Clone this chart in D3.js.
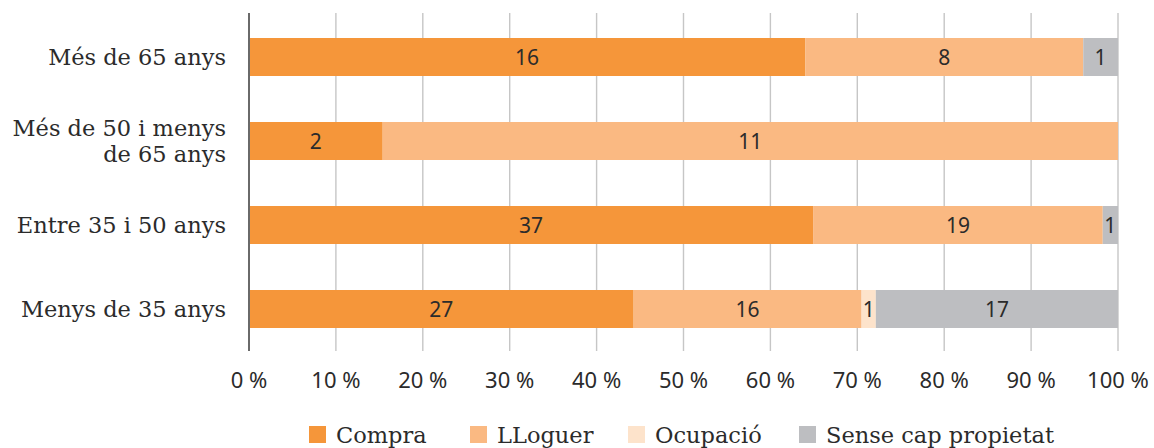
<!DOCTYPE html>
<html>
<head>
<meta charset="utf-8">
<script src="https://cdn.jsdelivr.net/npm/d3@7"></script>
<style>
  body { margin: 0; background: #fff; }
</style>
</head>
<body>
<div id="chart"></div>
<script>
var svgWidth = 1154;
var svgHeight = 448;

var categories = ["Més de 65 anys", "Més de 50 i menys\nde 65 anys", "Entre 35 i 50 anys", "Menys de 35 anys"];
var seriesNames = ["Compra", "LLoguer", "Ocupació", "Sense cap propietat"];
var compra = [16, 2, 37, 27];
var lloguer = [8, 11, 19, 16];
var ocupacio = [0, 0, 0, 1];
var senseCap = [1, 0, 1, 17];
var tickValues = [0, 0.1, 0.2, 0.3, 0.4, 0.5, 0.6, 0.7, 0.8, 0.9, 1];

var colors = ["#f5963a", "#fab982", "#fde3cb", "#bdbec1"];
var serif = "'DejaVu Serif', serif";
var sans = "'Noto Sans', sans-serif";

var svg = d3.select("#chart")
  .append("svg")
  .attr("width", svgWidth)
  .attr("height", svgHeight);

var rows = categories.map(function(c, i) {
  return { cat: c, values: [compra[i], lloguer[i], ocupacio[i], senseCap[i]] };
});

var xScale = d3.scaleLinear().domain([0, 1]).range([249, 1118]);
var yScale = d3.scaleBand().domain(categories).range([15, 351])
  .paddingInner(0.5476).paddingOuter(0.2738);

// gridlines
svg.append("g")
  .selectAll("line")
  .data(tickValues.slice(1))
  .enter()
  .append("line")
  .attr("x1", d => xScale(d))
  .attr("x2", d => xScale(d))
  .attr("y1", 13)
  .attr("y2", 351)
  .attr("stroke", "#c6c6c6")
  .attr("stroke-width", 1.4);

// segments
var segs = [];
rows.forEach(function(r) {
  var total = d3.sum(r.values);
  var acc = 0;
  r.values.forEach(function(v, k) {
    segs.push({ cat: r.cat, k: k, v: v, x0: acc / total, x1: (acc + v) / total });
    acc += v;
  });
});

svg.append("g")
  .selectAll("rect")
  .data(segs.filter(d => d.v > 0))
  .enter()
  .append("rect")
  .attr("x", d => xScale(d.x0))
  .attr("width", d => xScale(d.x1) - xScale(d.x0))
  .attr("y", d => yScale(d.cat))
  .attr("height", yScale.bandwidth())
  .attr("fill", d => colors[d.k]);

svg.append("g")
  .selectAll("text")
  .data(segs.filter(d => d.v > 0))
  .enter()
  .append("text")
  .attr("x", d => xScale((d.x0 + d.x1) / 2))
  .attr("y", d => yScale(d.cat) + yScale.bandwidth() / 2 + 7.5)
  .attr("text-anchor", "middle")
  .attr("font-family", sans)
  .attr("font-size", "21px")
  .attr("fill", "#2b2b2b")
  .text(d => d.v);

// axis line
svg.append("line")
  .attr("x1", xScale(0)).attr("x2", xScale(0))
  .attr("y1", 13).attr("y2", 351)
  .attr("stroke", "#6a6a6a")
  .attr("stroke-width", 2);

// x tick labels
svg.append("g")
  .selectAll("text")
  .data(tickValues)
  .enter()
  .append("text")
  .attr("x", d => xScale(d))
  .attr("y", 388)
  .attr("text-anchor", "middle")
  .attr("font-family", sans)
  .attr("font-size", "22px")
  .attr("fill", "#2b2b2b")
  .text(d => Math.round(d * 100) + " %");

// category labels (one text per line)
var lineGap = 25.5;
var catLines = [];
categories.forEach(function(c) {
  var lines = c.split("\n");
  var cy = yScale(c) + yScale.bandwidth() / 2;
  var start = cy + 8 - (lines.length - 1) * lineGap / 2;
  lines.forEach(function(l, i) {
    catLines.push({ text: l, y: start + i * lineGap });
  });
});

svg.append("g")
  .selectAll("text")
  .data(catLines)
  .enter()
  .append("text")
  .attr("x", 226)
  .attr("y", d => d.y)
  .attr("text-anchor", "end")
  .attr("font-family", serif)
  .attr("font-size", "22.5px")
  .attr("fill", "#2b2b2b")
  .text(d => d.text);

// legend
var legendX = [309, 470, 628, 799];
var legend = svg.append("g")
  .selectAll("g")
  .data(seriesNames)
  .enter()
  .append("g")
  .attr("transform", (d, i) => `translate(${legendX[i]}, 426)`);

legend.append("rect")
  .attr("width", 17)
  .attr("height", 17)
  .attr("fill", (d, i) => colors[i]);

legend.append("text")
  .attr("x", 27)
  .attr("y", 17)
  .attr("font-family", serif)
  .attr("font-size", "22.5px")
  .attr("fill", "#2b2b2b")
  .text(d => d);
</script>
</body>
</html>
